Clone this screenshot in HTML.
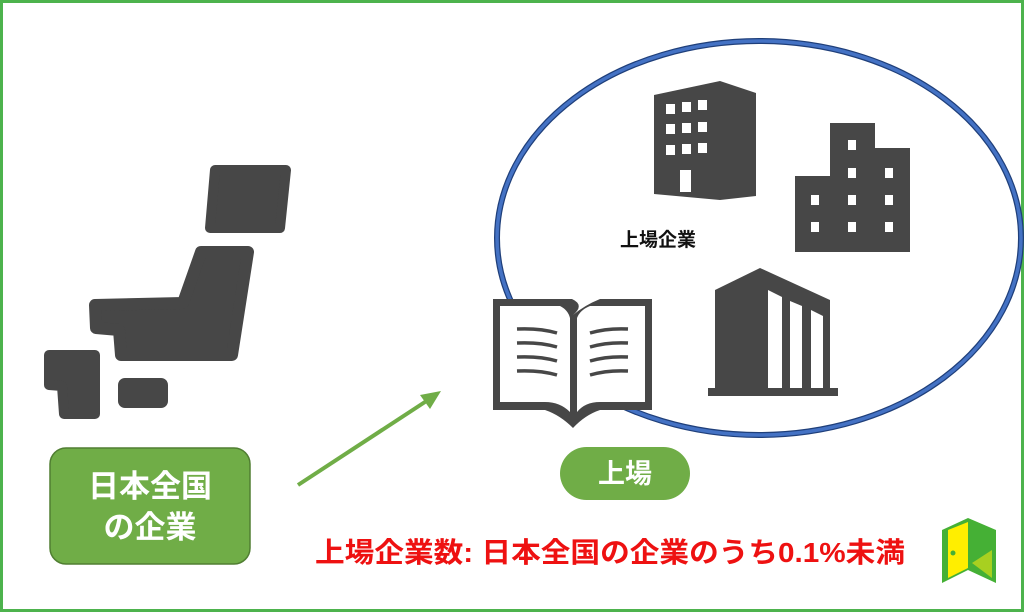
<!DOCTYPE html>
<html><head><meta charset="utf-8"><style>
html,body{margin:0;padding:0;background:#fff}
svg{display:block}
text{font-family:"Liberation Sans","Noto Sans CJK JP",sans-serif;font-weight:bold}
</style></head><body>
<svg width="1024" height="612" viewBox="0 0 1024 612" xmlns="http://www.w3.org/2000/svg">
<rect x="1.5" y="1.5" width="1021" height="609" fill="#fff" stroke="#4db34d" stroke-width="3"/>
<ellipse cx="759" cy="238" rx="262" ry="197" fill="none" stroke="#1f3f7a" stroke-width="6"/>
<ellipse cx="759" cy="238" rx="262" ry="197" fill="none" stroke="#4472c4" stroke-width="3.5"/>
<g fill="#474747" stroke="#474747" stroke-linejoin="round">
<path d="M215,170 L286,170 L280,228 L210,228 Z" stroke-width="10"/>
<path d="M201,252 L248,252 L232,355 L121,355 L119,330 L96,328 L95,305 L183,303 Z" stroke-width="12"/>
<path d="M49,355 L95,355 L95,414 L64,414 L62,386 L49,385 Z" stroke-width="10"/>
<rect x="123" y="383" width="40" height="20" rx="2" stroke-width="10"/>
</g>
<rect x="50" y="448" width="200" height="116" rx="16" fill="#70ad47" stroke="#507e32" stroke-width="1.5"/>
<text x="150" y="497" font-size="31" fill="#fff" text-anchor="middle">日本全国</text>
<text x="150" y="538" font-size="31" fill="#fff" text-anchor="middle">の企業</text>
<line x1="298" y1="485" x2="428" y2="400" stroke="#70ad47" stroke-width="4"/>
<polygon points="441,391 420,395 430,409" fill="#70ad47"/>
<g fill="#474747">
<polygon points="654,95 720,81 756,93 756,196 720,200 654,194"/>
<g fill="#fff">
<rect x="666" y="104" width="9" height="10"/><rect x="682" y="102" width="9" height="10"/><rect x="698" y="100" width="9" height="10"/>
<rect x="666" y="124" width="9" height="10"/><rect x="682" y="123" width="9" height="10"/><rect x="698" y="122" width="9" height="10"/>
<rect x="666" y="145" width="9" height="10"/><rect x="682" y="144" width="9" height="10"/><rect x="698" y="143" width="9" height="10"/>
</g>
<rect x="680" y="170" width="11" height="22" fill="#fff"/>
</g>
<g fill="#474747">
<path d="M795,176 L830,176 L830,123 L875,123 L875,148 L910,148 L910,252 L795,252 Z"/>
<g fill="#fff">
<rect x="848" y="140" width="8" height="10"/>
<rect x="848" y="168" width="8" height="10"/><rect x="885" y="168" width="8" height="10"/>
<rect x="811" y="195" width="8" height="10"/><rect x="848" y="195" width="8" height="10"/><rect x="885" y="195" width="8" height="10"/>
<rect x="811" y="222" width="8" height="10"/><rect x="848" y="222" width="8" height="10"/><rect x="885" y="222" width="8" height="10"/>
</g>
</g>
<g fill="#474747">
<polygon points="715,290 760,268 830,300 830,390 715,390"/>
<rect x="708" y="388" width="130" height="8"/>
<g fill="#fff">
<polygon points="768,290 782,297 782,388 768,388"/>
<polygon points="790,301 802,306 802,388 790,388"/>
<polygon points="811,310 823,316 823,388 811,388"/>
</g>
</g>
<g>
<path d="M493,299 L572,299 Q585,305 573,315 L573,315 Q585,305 600,299 L652,299 L652,410 L600,410 Q585,415 573,428 Q560,415 545,410 L493,410 Z" fill="#474747"/>
<path d="M500,306 L560,306 Q568,310 570,318 L570,412 Q560,402 545,402 L500,402 Z" fill="#fff"/>
<path d="M577,318 Q580,310 590,306 L645,306 L645,402 L600,402 Q585,402 577,412 Z" fill="#fff"/>
<g stroke="#474747" stroke-width="3.5" fill="none">
<path d="M517,329 Q540,328 557,333"/><path d="M517,343 Q540,342 557,347"/><path d="M517,357 Q540,356 557,361"/><path d="M517,371 Q540,370 557,375"/>
<path d="M590,333 Q607,328 628,329"/><path d="M590,347 Q607,342 628,343"/><path d="M590,361 Q607,356 628,357"/><path d="M590,375 Q607,370 628,371"/>
</g>
</g>
<text x="620" y="246" font-size="19" fill="#111">上場企業</text>
<rect x="560" y="447" width="130" height="53" rx="26.5" fill="#70ad47"/>
<text x="625" y="483" font-size="27" fill="#fff" text-anchor="middle">上場</text>
<text x="315" y="562" font-size="28" fill="#ee1111" textLength="590" lengthAdjust="spacingAndGlyphs">上場企業数: 日本全国の企業のうち0.1%未満</text>
<g>
<polygon points="942,530 968,518 996,530 996,583 968,570 942,583" fill="#45b035"/>
<polygon points="948,530 968,522 968,568 948,578" fill="#ffee00"/>
<polygon points="972,563 992,550 992,578" fill="#a8d020"/>
<circle cx="953" cy="553" r="2.5" fill="#45b035"/>
</g>
</svg>
</body></html>
